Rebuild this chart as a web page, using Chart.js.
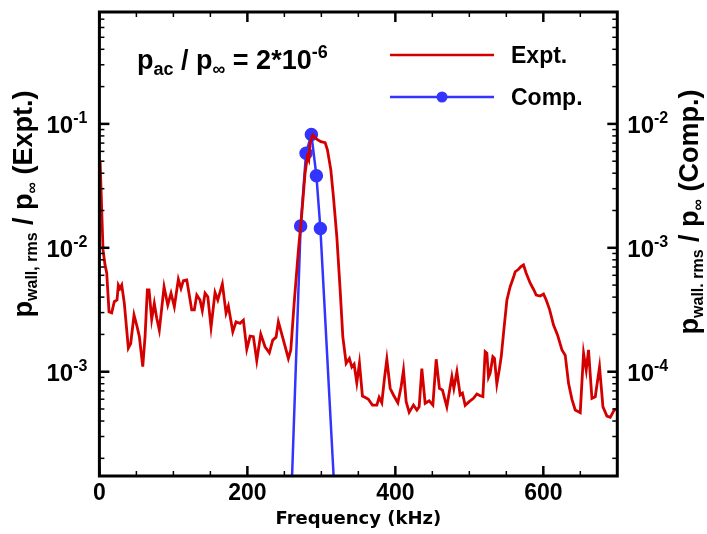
<!DOCTYPE html>
<html>
<head>
<meta charset="utf-8">
<script src="https://cdn.jsdelivr.net/npm/chart.js@4/dist/chart.umd.min.js"></script>
<style>
  html, body { margin: 0; padding: 0; background: #fff; }
  #wrap { width: 707px; height: 534px; }
</style>
</head>
<body>
<div id="wrap"><canvas id="c" width="707" height="534"></canvas></div>
<script>
// Measured wall-pressure spectrum (kHz, p_wall,rms / p_inf)
const exptFreq = [
  1, 4.9, 7.6, 9.9, 13.0, 16.6, 20.1, 23.8, 25.6, 27.9, 30.2, 33.7, 39.1, 42.3, 46.8, 50.4, 54.0, 58.6, 61.7, 64.8,
  67.1, 70.7, 74.2, 77.5, 81.0, 87.4, 92.4, 96.8, 101.3, 106.7, 110.3, 113.5, 118.1, 124.8, 128.3, 131.6, 136.0, 139.1, 142.8, 146.5,
  150.9, 156.3, 160.0, 166.2,
  171.2, 174.3, 180.3, 184.7, 190.1, 194.6, 199.2, 203.7, 208.1, 212.7, 218.1, 223.9, 229.7, 234.3, 238.8, 241.9, 246.5, 255.4, 258.7, 263.2,
  269.0, 273.6, 278.0, 281.1, 283.0, 284.8, 288.4, 293.8, 299.3, 305.1, 308.2, 312.8, 316.3, 320.9, 325.4, 329.0, 333.5, 337.9,
  341.2, 344.3, 347.9, 351.5, 355.5, 360.1, 363.6, 369.0, 375.0, 378.1, 381.7, 385.3, 388.5, 393.0, 397.4, 403.4, 407.8, 411.0, 414.6, 418.7,
  424.5, 429.1, 432.2, 435.8, 440.3, 445.7, 450.7, 455.2, 459.6, 463.7, 469.6, 476.4, 479.1, 483.2, 487.6, 490.7, 494.4, 499.8, 505.6, 510.2,
  514.7, 518.3,
  521.4, 523.7, 525.9, 528.1, 531.8, 534.0, 537.2, 540.4, 543.1, 547.1, 550.8, 555.2, 559.7, 562.0, 566.5, 569.7, 573.2, 576.9, 582.3, 586.7,
  590.4, 595.8, 600.3, 603.9, 608.4, 613.8, 619.2, 625.2, 629.6, 634.1, 638.7, 643.1, 647.6, 649.9, 654.4, 658.0, 661.1, 665.7, 670.2, 676.0,
  680.6, 686.0, 690.5, 696.3, 699.5
];
const exptAmp = [
  0.0497, 0.00962, 0.00728, 0.00627, 0.00305, 0.00299, 0.00367, 0.00379, 0.00501, 0.00471, 0.00501, 0.00356, 0.00155, 0.00169, 0.00287, 0.00238, 0.00192, 0.00110, 0.00192, 0.00457,
  0.00457, 0.00265, 0.00356, 0.00270, 0.00217, 0.00485, 0.00346, 0.00430, 0.00335, 0.00557, 0.00471, 0.00543, 0.00550, 0.00315, 0.00315, 0.00416, 0.00379, 0.00311, 0.00430, 0.00403,
  0.00228, 0.00435, 0.00379, 0.00511,
  0.00297, 0.00339, 0.00210, 0.00253, 0.00246, 0.00261, 0.00152, 0.00194, 0.00192, 0.00123, 0.00201, 0.00159, 0.00142, 0.00180, 0.00190, 0.00253, 0.00201, 0.00128, 0.00150, 0.00356,
  0.00962, 0.0190, 0.0400, 0.0545, 0.0512, 0.0698, 0.0815, 0.0752, 0.0719, 0.0706, 0.0617, 0.0426, 0.0259, 0.0123, 0.00457, 0.00192, 0.00117, 0.00128,
  0.00109, 0.00115, 8.15e-4, 0.00117, 6.37e-4, 6.17e-4, 5.99e-4, 5.38e-4, 5.38e-4, 6.21e-4, 5.62e-4, 8.85e-4, 0.00126, 7.35e-4, 6.49e-4, 5.62e-4, 7.57e-4, 0.00103, 5.73e-4, 4.70e-4,
  5.38e-4, 4.91e-4, 5.22e-4, 0.00106, 5.56e-4, 5.83e-4, 5.38e-4, 0.00126, 7.35e-4, 7.11e-4, 5.21e-4, 9.12e-4, 7.35e-4, 0.00100, 6.49e-4, 6.70e-4, 5.36e-4, 5.73e-4, 6.10e-4, 6.61e-4,
  6.40e-4, 6.30e-4,
  0.00145, 0.00141, 9.02e-4, 9.71e-4, 0.00132, 0.00128, 7.96e-4, 0.00103, 0.00132, 0.00231, 0.00379, 0.00485, 0.00578, 0.00641, 0.00671, 0.00705, 0.00727, 0.00623, 0.00518, 0.00463,
  0.00416, 0.00408, 0.00423, 0.00379, 0.00319, 0.00238, 0.00198, 0.00150, 0.00136, 8.05e-4, 5.98e-4, 4.91e-4, 4.75e-4, 4.67e-4, 0.00141, 0.00103, 0.00150, 6.10e-4, 6.28e-4, 0.00109,
  5.21e-4, 4.38e-4, 4.28e-4, 4.97e-4, 4.91e-4
];

// Computed response (kHz, p_wall,rms / p_inf)
const compFreq = [250, 272.0, 279.3, 286.5, 293.3, 298.7, 330];
const compAmp  = [2.2e-7, 1.50e-3, 5.8e-3, 8.2e-3, 3.82e-3, 1.43e-3, 4.5e-7];

// Axis ranges and tick values
const freqRange = [0, 700];
const exptRange = [1.44e-4, 0.8];
const compRange = [1.44e-5, 0.08];
const freqMajorTicks = [0, 200, 400, 600];
const freqMinorStep = 50;
const exptDecades = [1e-3, 1e-2, 1e-1];
const compDecades = [1e-4, 1e-3, 1e-2];

const FONT = '"Liberation Sans", Arial, Helvetica, sans-serif';

function drawParts(ctx, parts, x, y) {
  let cx = x;
  for (const [text, size, dy] of parts) {
    ctx.font = `bold ${size}px ${FONT}`;
    ctx.fillText(text, cx, y + dy);
    cx += ctx.measureText(text).width;
  }
  return cx - x;
}
function partsWidth(ctx, parts) {
  let w = 0;
  for (const [text, size] of parts) {
    ctx.font = `bold ${size}px ${FONT}`;
    w += ctx.measureText(text).width;
  }
  return w;
}
function powerLabel(v) {
  return [['10', 24, 0], [String(Math.round(Math.log10(v))), 16, -10]];
}

const decorations = {
  id: 'decorations',
  afterDraw(chart) {
    const { ctx, chartArea: a, scales } = chart;
    ctx.save();
    ctx.strokeStyle = '#000';
    ctx.fillStyle = '#000';
    ctx.lineCap = 'butt';

    const seg = (x1, y1, x2, y2, w) => {
      ctx.lineWidth = w;
      ctx.beginPath(); ctx.moveTo(x1, y1); ctx.lineTo(x2, y2); ctx.stroke();
    };

    // inward ticks, bottom and top
    for (let v = freqRange[0]; v <= freqRange[1]; v += freqMinorStep) {
      const x = scales.x.getPixelForValue(v);
      const major = freqMajorTicks.includes(v);
      const len = major ? 10 : 5;
      seg(x, a.bottom, x, a.bottom - len, major ? 2.5 : 1.5);
      seg(x, a.top, x, a.top + len, major ? 2.5 : 1.5);
    }
    // inward ticks, left and right (log)
    const logTicks = (scale, range, xEdge, dir) => {
      let d = Math.pow(10, Math.floor(Math.log10(range[0])));
      for (; d <= range[1]; d *= 10) {
        for (let m = 1; m <= 9; m++) {
          const v = m * d;
          if (v < range[0] * 0.999 || v > range[1] * 1.001) continue;
          const y = scale.getPixelForValue(v);
          const len = m === 1 ? 10 : 5;
          seg(xEdge, y, xEdge + dir * len, y, m === 1 ? 2.5 : 1.5);
        }
      }
    };
    logTicks(scales.y, exptRange, a.left, 1);
    logTicks(scales.y2, compRange, a.right, -1);

    // frame
    ctx.lineWidth = 3;
    ctx.strokeRect(a.left, a.top, a.right - a.left, a.bottom - a.top);

    // log tick labels
    ctx.textBaseline = 'alphabetic';
    for (const v of exptDecades) {
      const y = scales.y.getPixelForValue(v);
      const parts = powerLabel(v);
      const w = partsWidth(ctx, parts);
      drawParts(ctx, parts, a.left - 12 - w, y + 9);
    }
    for (const v of compDecades) {
      const y = scales.y2.getPixelForValue(v);
      drawParts(ctx, powerLabel(v), a.right + 10, y + 9);
    }

    // rotated axis titles
    const leftTitle = [['p', 27, 0], ['wall, rms', 16, 5], [' / p', 27, 0], ['\u221E', 16, 5], [' (Expt.)', 27, 0]];
    const rightTitle = [['p', 27, 0], ['wall. rms', 16, 5], [' / p', 27, 0], ['\u221E', 16, 5], [' (Comp.)', 27, 0]];
    const rotated = (parts, cx, cy) => {
      const w = partsWidth(ctx, parts);
      ctx.save();
      ctx.translate(cx, cy);
      ctx.rotate(-Math.PI / 2);
      drawParts(ctx, parts, -w / 2, 0);
      ctx.restore();
    };
    rotated(leftTitle, 32, 204);
    rotated(rightTitle, 698, 212);

    // condition annotation
    drawParts(ctx, [['p', 27, 0], ['ac', 18, 6], [' / p', 27, 0], ['\u221E', 18, 6], [' = 2*10', 27, 0], ['-6', 18, -11]], 137, 69);

    // legend
    const ds = chart.data.datasets;
    const rows = [55, 97];
    ds.forEach((d, i) => {
      const y = rows[i];
      ctx.strokeStyle = d.borderColor;
      seg(390, y, 494, y, 2.5);
      if (d.pointRadius > 0) {
        ctx.fillStyle = d.pointBackgroundColor;
        ctx.beginPath(); ctx.arc(442, y, d.pointRadius, 0, Math.PI * 2); ctx.fill();
      }
      ctx.fillStyle = '#000';
      ctx.font = `bold 23px ${FONT}`;
      ctx.fillText(d.label, 511, y + 8);
    });
    ctx.restore();
  }
};

new Chart(document.getElementById('c'), {
  type: 'line',
  data: {
    datasets: [
      {
        label: 'Expt.',
        data: exptFreq.map((f, i) => ({ x: f, y: exptAmp[i] })),
        yAxisID: 'y',
        borderColor: '#d40000',
        borderWidth: 2.8,
        pointRadius: 0,
        tension: 0
      },
      {
        label: 'Comp.',
        data: compFreq.map((f, i) => ({ x: f, y: compAmp[i] })),
        yAxisID: 'y2',
        borderColor: '#3434ff',
        pointBackgroundColor: '#3434ff',
        pointBorderColor: '#3434ff',
        borderWidth: 2.5,
        pointRadius: 5.5,
        pointHoverRadius: 5.5,
        tension: 0
      }
    ]
  },
  options: {
    responsive: false,
    animation: false,
    events: [],
    layout: { padding: { top: 12, left: 0, right: 0, bottom: 0 } },
    plugins: { legend: { display: false }, tooltip: { enabled: false } },
    scales: {
      x: {
        type: 'linear',
        position: 'bottom',
        min: freqRange[0], max: freqRange[1],
        afterBuildTicks: s => { s.ticks = freqMajorTicks.map(v => ({ value: v })); },
        afterFit: s => { s.height = 58; },
        grid: { display: false, drawTicks: false },
        border: { display: false },
        ticks: { color: '#000', font: { family: FONT, size: 23, weight: 'bold' }, padding: 4, maxRotation: 0 },
        title: { display: true, text: 'Frequency (kHz)', color: '#000', font: { family: '"DejaVu Sans", sans-serif', size: 18, weight: 'bold' }, padding: { top: 0, bottom: 4 } }
      },
      y: {
        type: 'logarithmic',
        position: 'left',
        min: exptRange[0], max: exptRange[1],
        afterFit: s => { s.width = 99.4; },
        grid: { display: false, drawTicks: false },
        border: { display: false },
        ticks: { display: false }
      },
      y2: {
        type: 'logarithmic',
        position: 'right',
        min: compRange[0], max: compRange[1],
        afterFit: s => { s.width = 707 - 617.3; },
        grid: { display: false, drawTicks: false },
        border: { display: false },
        ticks: { display: false }
      }
    }
  },
  plugins: [decorations]
});
</script>
</body>
</html>
